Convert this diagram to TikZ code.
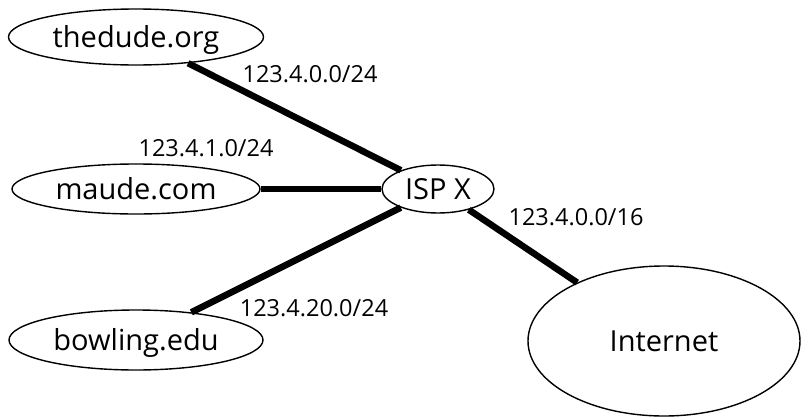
\documentclass[tikz,border=0pt]{standalone}
\usepackage{fontspec}
\setmainfont{Open Sans}
\usetikzlibrary{shapes.geometric}
\begin{document}
\begin{tikzpicture}[x=1pt,y=-1pt,
  host/.style={ellipse, draw, line width=1.4pt, inner sep=0pt,
    font=\fontsize{29}{33}\selectfont, text height=20.5pt, text depth=0pt},
  link/.style={line width=6.5pt},
  net/.style={font=\fontsize{23.5}{28}\selectfont, anchor=base, inner sep=0pt}]
\useasboundingbox (0,0) rectangle (801,418);
\node[host, minimum width=255pt, minimum height=56pt] (dude) at (136,37) {thedude.org};
\node[host, minimum width=248pt, minimum height=50pt] (maude) at (136,189) {maude.com};
\node[host, minimum width=254pt, minimum height=60pt] (bowl) at (136,340) {bowling.edu};
\node[host, minimum width=112pt, minimum height=48pt] (isp) at (438,189) {ISP X};
\node[host, minimum width=272pt, minimum height=150pt] (inet) at (664,341) {Internet};
\draw[link] (dude) -- (isp);
\draw[link] (maude) -- (isp);
\draw[link] (bowl) -- (isp);
\draw[link] (isp) -- (inet);
\node[net] (l1) at (310,82) {123.4.0.0/24};
\node[net] (l2) at (206,156) {123.4.1.0/24};
\node[net] (l3) at (314,316) {123.4.20.0/24};
\node[net] (l4) at (576,225) {123.4.0.0/16};
\end{tikzpicture}
\end{document}
